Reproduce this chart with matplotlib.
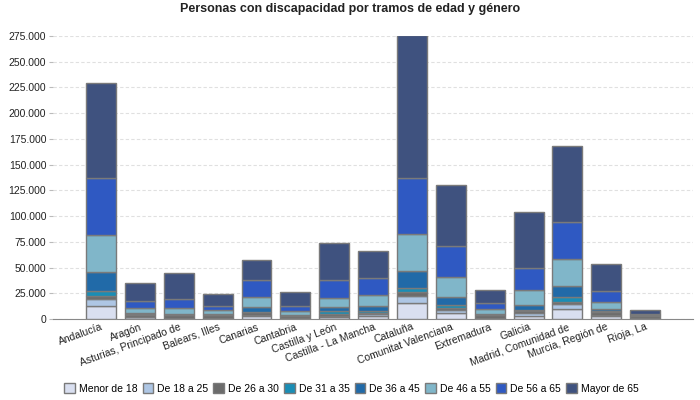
import matplotlib
matplotlib.use('Agg')
import matplotlib.pyplot as plt
import numpy as np
from matplotlib.ticker import FuncFormatter

plt.rcParams['font.family'] = ['Liberation Sans', 'DejaVu Sans']

comunidades = ['Andalucía', 'Aragón', 'Asturias, Principado de', 'Balears, Illes',
               'Canarias', 'Cantabria', 'Castilla y León', 'Castilla - La Mancha',
               'Cataluña', 'Comunitat Valenciana', 'Extremadura', 'Galicia',
               'Madrid, Comunidad de', 'Murcia, Región de', 'Rioja, La']

tramos = ['Menor de 18', 'De 18 a 25', 'De 26 a 30', 'De 31 a 35',
          'De 36 a 45', 'De 46 a 55', 'De 56 a 65', 'Mayor de 65']

# valores por tramo
menor_18 = [12600, 1600, 500, 900, 2900, 600, 1800, 2500, 15300, 5600, 700, 3400, 9400, 2500, 300]
de_18_25 = [7100, 400, 300, 300, 1300, 400, 800, 2000, 7200, 3100, 300, 2200, 4700, 1600, 200]
de_26_30 = [2300, 2300, 2700, 2600, 2200, 1600, 2500, 1800, 3800, 2300, 2800, 2500, 2800, 2800, 2900]
de_31_35 = [4800, 500, 500, 400, 500, 400, 2300, 1300, 3700, 2700, 500, 700, 4000, 600, 200]
de_36_45 = [18800, 800, 1300, 600, 4300, 800, 3800, 4900, 16500, 7600, 700, 5200, 11300, 1900, 300]
de_46_55 = [35700, 4900, 5400, 3500, 10600, 3600, 9600, 11200, 36000, 19700, 4400, 14500, 26000, 7500, 400]
de_56_65 = [56100, 7100, 8700, 4800, 16300, 5700, 16700, 16400, 54400, 29900, 6500, 21000, 36000, 10000, 700]
mayor_65 = [92300, 17400, 25200, 11600, 19700, 13500, 36700, 25600, 139100, 59100, 11800, 54400, 73700, 26600, 3500]

series = [menor_18, de_18_25, de_26_30, de_31_35, de_36_45, de_46_55, de_56_65, mayor_65]
colores = ['#d9dff0', '#aec6e4', '#6b6b6b', '#1a8db5', '#216aa8', '#80b6c9', '#2f59c2', '#3f527f']

fig = plt.figure(figsize=(7, 4), dpi=100)
ax = fig.add_axes([0.076, 0.2025, 0.914, 0.7075])

x = np.arange(len(comunidades))
base = np.zeros(len(comunidades))
for nombre, valores, color in zip(tramos, series, colores):
    v = np.array(valores)
    ax.bar(x, v, 0.77, bottom=base, color=color, edgecolor='#7a7a7a',
           linewidth=1, label=nombre, zorder=3)
    base += v

ax.set_xlim(-1.23, len(comunidades) - 1 + 1.23)
ax.set_ylim(0, 275000)
ax.set_yticks(np.arange(0, 275001, 25000))
ax.yaxis.set_major_formatter(FuncFormatter(lambda v, p: f'{int(v):,}'.replace(',', '.')))
ax.grid(axis='y', color='#e0e0e0', linestyle=(0, (3, 2)), linewidth=0.8, zorder=0)

for s in ['top', 'right', 'left']:
    ax.spines[s].set_visible(False)
ax.spines['bottom'].set_color('#888888')
ax.tick_params(axis='y', length=3, color='#bbbbbb', labelsize=7.5, labelcolor='#222222', pad=2)
ax.tick_params(axis='x', length=0, labelsize=7.5, labelcolor='#222222', pad=2)

ax.set_xticks(x)
ax.set_xticklabels(comunidades, rotation=20, ha='right', rotation_mode='anchor')

fig.text(0.5, 0.978, 'Personas con discapacidad por tramos de edad y género',
         ha='center', va='center', fontsize=9, fontweight='bold', color='#222222')

fig.legend(loc='center', bbox_to_anchor=(0.502, 0.029), ncol=8, frameon=False,
           fontsize=7.5, handlelength=1.0, handleheight=1.0, handletextpad=0.4,
           columnspacing=0.5)

fig.savefig('out.png', dpi=100)
